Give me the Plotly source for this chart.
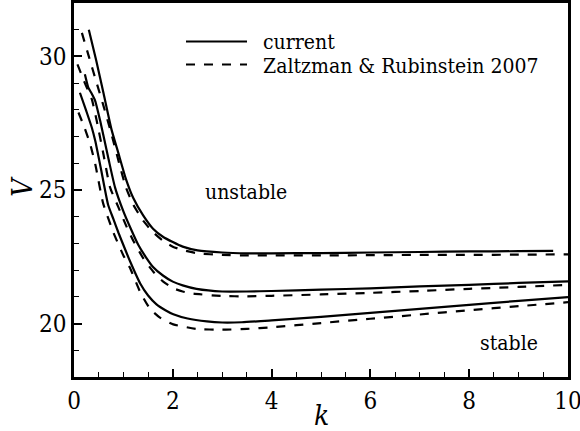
import plotly.graph_objects as go

# ---------------- data ----------------
k_cur_top = [0.30, 0.45, 0.60, 0.76, 0.90, 1.05, 1.20, 1.40, 1.60, 1.80, 2.00, 2.20, 2.50, 3.00, 3.50, 4.00, 5.00, 6.00, 7.00, 8.00, 9.00, 9.70]
v_cur_top = [31.00, 29.85, 28.60, 27.26, 26.37, 25.42, 24.70, 24.05, 23.55, 23.25, 23.05, 22.88, 22.74, 22.66, 22.63, 22.63, 22.64, 22.66, 22.68, 22.70, 22.71, 22.72]

k_zr_top = [0.16, 0.30, 0.45, 0.60, 0.75, 0.90, 1.05, 1.20, 1.40, 1.60, 1.80, 2.00, 2.20, 2.50, 3.00, 3.50, 4.00, 5.00, 6.00, 7.00, 8.00, 9.00, 10.0]
v_zr_top = [30.88, 30.00, 29.06, 28.13, 27.15, 26.10, 25.10, 24.45, 23.85, 23.42, 23.10, 22.88, 22.75, 22.63, 22.57, 22.55, 22.55, 22.55, 22.56, 22.57, 22.57, 22.58, 22.59]

k_cur_mid = [0.22, 0.29, 0.36, 0.43, 0.53, 0.60, 0.70, 0.83, 1.00, 1.15, 1.30, 1.45, 1.60, 1.80, 2.00, 2.20, 2.48, 3.00, 3.50, 4.00, 5.00, 6.00, 7.00, 8.00, 9.00, 10.0]
v_cur_mid = [29.33, 28.83, 28.60, 28.33, 27.59, 27.00, 26.15, 25.10, 24.20, 23.55, 22.95, 22.50, 22.12, 21.80, 21.57, 21.43, 21.30, 21.20, 21.20, 21.22, 21.27, 21.32, 21.39, 21.45, 21.52, 21.58]

k_zr_mid = [0.07, 0.22, 0.36, 0.46, 0.60, 0.73, 0.90, 1.07, 1.20, 1.40, 1.61, 1.80, 2.01, 2.20, 2.42, 3.00, 3.50, 4.00, 5.00, 6.00, 7.00, 8.00, 9.00, 10.0]
v_zr_mid = [29.70, 29.00, 28.40, 27.59, 26.30, 25.10, 24.35, 23.60, 23.10, 22.45, 21.93, 21.58, 21.32, 21.20, 21.12, 21.03, 21.02, 21.04, 21.09, 21.15, 21.22, 21.30, 21.37, 21.45]

k_cur_bot = [0.12, 0.25, 0.36, 0.43, 0.55, 0.69, 0.80, 0.90, 1.03, 1.13, 1.34, 1.50, 1.67, 1.85, 2.01, 2.30, 2.69, 3.00, 3.40, 4.00, 5.00, 6.00, 7.00, 8.00, 9.00, 10.0]
v_cur_bot = [28.64, 27.95, 27.34, 26.84, 25.75, 24.45, 23.90, 23.40, 22.80, 22.35, 21.50, 21.05, 20.72, 20.50, 20.35, 20.19, 20.08, 20.04, 20.05, 20.12, 20.25, 20.40, 20.55, 20.70, 20.85, 20.99]

k_zr_bot = [0.09, 0.22, 0.33, 0.43, 0.59, 0.80, 1.00, 1.13, 1.34, 1.54, 1.74, 2.01, 2.48, 3.00, 3.50, 4.00, 5.00, 6.00, 7.00, 8.00, 9.00, 10.0]
v_zr_bot = [27.90, 27.30, 26.70, 25.97, 24.50, 23.40, 22.55, 22.10, 21.18, 20.55, 20.22, 19.97, 19.80, 19.77, 19.80, 19.86, 20.02, 20.18, 20.34, 20.50, 20.65, 20.80]

x_ticks = [0, 2, 4, 6, 8, 10]
y_ticks = [20, 25, 30]
legend_labels = ["current", "Zaltzman & Rubinstein 2007"]
region_labels = ["unstable", "stable"]
axis_titles = ["<i>k</i>", "<i>V</i>"]

# ---------------- figure ----------------
FONT = "DejaVu Serif Condensed, DejaVu Serif"
W, H = 580, 431
ML, MR, MT, MB = 74, 12, 3, 54
PW, PH = W - ML - MR, H - MT - MB


def px_x(p):
    return (p - ML) / PW


def px_y(p):
    return (H - MB - p) / PH


fig = go.Figure()

solid = dict(color="black", width=2.2, dash="solid")
dashed = dict(color="black", width=2.2, dash="9px,9px")

for kx, vy, ln in [
    (k_cur_top, v_cur_top, solid), (k_zr_top, v_zr_top, dashed),
    (k_cur_mid, v_cur_mid, solid), (k_zr_mid, v_zr_mid, dashed),
    (k_cur_bot, v_cur_bot, solid), (k_zr_bot, v_zr_bot, dashed),
]:
    fig.add_trace(go.Scatter(x=kx, y=vy, mode="lines",
                             line=dict(shape="spline", smoothing=0.5, **ln),
                             showlegend=False, hoverinfo="skip"))

# legend drawn as layout decoration
leg_line_px = [41.5, 64.5]
leg_text_px = [41.7, 66.3]
for ly, ty, ln, lab in zip(leg_line_px, leg_text_px, [solid, dashed], legend_labels):
    fig.add_shape(type="line", xref="paper", yref="paper", x0=px_x(186), x1=px_x(247),
                  y0=px_y(ly), y1=px_y(ly), line=ln)
    fig.add_annotation(xref="paper", yref="paper", x=px_x(261), y=px_y(ty),
                       text=lab, showarrow=False, xanchor="left", yanchor="middle",
                       font=dict(family=FONT, size=21, color="black"))

fig.add_annotation(xref="paper", yref="paper", x=px_x(203), y=px_y(191.7),
                   text=region_labels[0], showarrow=False, xanchor="left", yanchor="middle",
                   font=dict(family=FONT, size=21, color="black"))
fig.add_annotation(xref="paper", yref="paper", x=px_x(478), y=px_y(343.4),
                   text=region_labels[1], showarrow=False, xanchor="left", yanchor="middle",
                   font=dict(family=FONT, size=21, color="black"))

# axis titles
fig.add_annotation(xref="paper", yref="paper", x=px_x(321), y=px_y(415.3),
                   text=axis_titles[0], showarrow=False, xanchor="center", yanchor="middle",
                   font=dict(family=FONT, size=28, color="black"))
fig.add_annotation(xref="paper", yref="paper", x=px_x(22.3), y=px_y(186.5),
                   text=axis_titles[1], showarrow=False, xanchor="center", yanchor="middle",
                   textangle=-90, font=dict(family=FONT, size=28, color="black"))

axis_common = dict(showgrid=False, zeroline=False, showline=True, linecolor="black",
                   linewidth=2.5, mirror=True, ticks="inside", tickcolor="black",
                   tickwidth=1.5, ticklen=8, automargin=False, ticklabeloverflow="allow",
                   tickfont=dict(family=FONT, size=24, color="black"))

fig.update_xaxes(range=[0, 10], tickvals=x_ticks, ticktext=[str(t) for t in x_ticks],
                 minor=dict(dtick=0.5, ticks="inside", ticklen=5, tickcolor="black", tickwidth=1.2),
                 **axis_common)
fig.update_yaxes(range=[18, 32], tickvals=y_ticks, ticktext=[str(t) for t in y_ticks],
                 minor=dict(dtick=1, ticks="inside", ticklen=5, tickcolor="black", tickwidth=1.2),
                 **axis_common)

fig.update_layout(width=W, height=H, margin=dict(l=ML, r=MR, t=MT, b=MB),
                  paper_bgcolor="white", plot_bgcolor="white", showlegend=False)

fig.write_html("out.html")
